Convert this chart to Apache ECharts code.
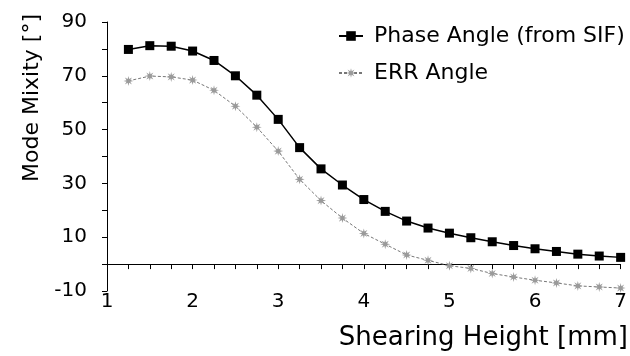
<!DOCTYPE html>
<html>
<head>
<meta charset="utf-8">
<script src="https://cdn.jsdelivr.net/npm/echarts@6/dist/echarts.min.js"></script>
<style>
html,body{margin:0;padding:0;background:#fff;}
#chart{width:630px;height:356px;}
</style>
</head>
<body>
<div id="chart"></div>
<script>
var shearingHeight = [1.25,1.5,1.75,2.0,2.25,2.5,2.75,3.0,3.25,3.5,3.75,4.0,4.25,4.5,4.75,5.0,5.25,5.5,5.75,6.0,6.25,6.5,6.75,7.0];
var phaseAngle = [79.8,81.2,81.0,79.2,75.7,70.0,62.8,53.8,43.3,35.4,29.4,24.0,19.6,16.0,13.4,11.5,9.8,8.3,6.9,5.7,4.7,3.7,3.0,2.5];
var errAngle = [68.1,69.9,69.6,68.4,64.6,58.7,50.9,42.0,31.5,23.6,17.1,11.4,7.4,3.4,1.4,-0.6,-1.6,-3.5,-4.8,-6.0,-7.0,-8.1,-8.5,-8.9];
var seriesNames = ['Phase Angle (from SIF)','ERR Angle'];
var xTitle = 'Shearing Height [mm]';
var yTitle = 'Mode Mixity [°]';

function pairs(xs, ys){ return xs.map(function(x,i){ return [x, ys[i]]; }); }

var starPath = 'path://M20,10 L13.7,11.53 L17.07,17.07 L11.53,13.7 L10,20 L8.47,13.7 L2.93,17.07 L6.3,11.53 L0,10 L6.3,8.47 L2.93,2.93 L8.47,6.3 L10,0 L11.53,6.3 L17.07,2.93 L13.7,8.47 Z';

var font = 'DejaVu Sans';
var chart = echarts.init(document.getElementById('chart'), null, {renderer:'canvas'});
chart.setOption({
  animation:false,
  backgroundColor:'#fff',
  grid:{left:107,right:5,top:22,bottom:65,containLabel:false},
  legend:{
    orient:'vertical', left:333, top:20,
    itemWidth:24, itemHeight:12, itemGap:15,
    textStyle:{fontFamily:font,fontSize:22,color:'#000',padding:[0,0,0,6]},
    data:seriesNames
  },
  xAxis:{
    type:'value', min:1, max:7, interval:0.25,
    axisLine:{onZero:true,lineStyle:{color:'#000',width:1}},
    axisTick:{show:true,length:5,lineStyle:{color:'#000'}},
    axisLabel:{margin:1,fontFamily:font,fontSize:20,color:'#000',
      formatter:function(v){ return Math.abs(v-Math.round(v))<1e-9 ? String(Math.round(v)) : ''; }},
    splitLine:{show:false}
  },
  yAxis:{
    type:'value', min:-10, max:90, interval:10,
    axisLine:{show:true,lineStyle:{color:'#000',width:1}},
    axisTick:{show:true,length:5,lineStyle:{color:'#000'}},
    axisLabel:{margin:20,fontFamily:font,fontSize:20,color:'#000',
      formatter:function(v){ return (Math.round(v)+10)%20===0 ? String(Math.round(v)) : ''; }},
    splitLine:{show:false}
  },
  graphic:[
    {type:'text', x:32, y:98, rotation:Math.PI/2,
      style:{text:yTitle, font:'22px "DejaVu Sans"', fill:'#000', align:'center', verticalAlign:'middle', textAlign:'center', textVerticalAlign:'middle'}},
    {type:'text', x:628, y:338,
      style:{text:xTitle, font:'26px "DejaVu Sans"', fill:'#000', align:'right', verticalAlign:'middle', textAlign:'right', textVerticalAlign:'middle'}}
  ],
  series:[
    {name:seriesNames[0], type:'line', data:pairs(shearingHeight, phaseAngle),
      symbol:'rect', symbolSize:9, showAllSymbol:true,
      lineStyle:{color:'#000',width:1.5}, itemStyle:{color:'#000'}},
    {name:seriesNames[1], type:'line', data:pairs(shearingHeight, errAngle),
      symbol:starPath, symbolSize:10, showAllSymbol:true,
      lineStyle:{color:'#777',width:1,type:[3,2]}, itemStyle:{color:'#9a9a9a'}}
  ]
});
</script>
</body>
</html>
